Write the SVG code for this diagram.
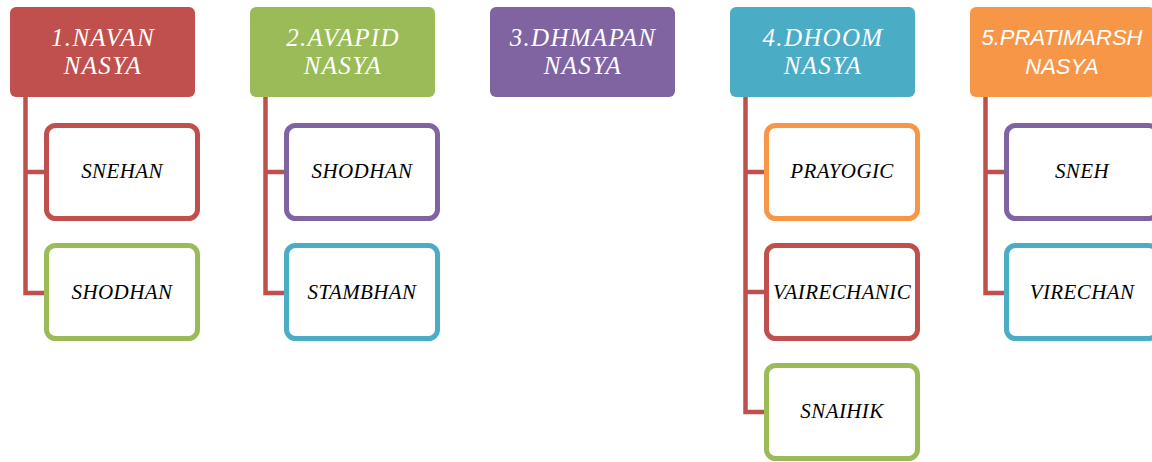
<svg xmlns="http://www.w3.org/2000/svg" width="1152" height="462" viewBox="0 0 1152 462">
<style>
.h{font-family:"Liberation Serif",serif;font-style:italic;font-size:25px;letter-spacing:1.3px;fill:#fff;text-anchor:middle}
.hs{font-family:"Liberation Sans",sans-serif;font-style:italic;font-size:22px;fill:#fff;text-anchor:middle}
.c{font-family:"Liberation Serif",serif;font-style:italic;font-size:21px;letter-spacing:0.4px;fill:#000;text-anchor:middle}
.b{fill:#fff;stroke-width:5}
.ln{fill:none;stroke:#C0504D;stroke-width:4.5}
</style>
<rect width="1152" height="462" fill="#fff"/>
<g id="connectors">
<path class="ln" d="M25.5 97V293H44M25.5 172H44"/>
<path class="ln" d="M265.5 97V293H284M265.5 172H284"/>
<path class="ln" d="M745.5 97V412H764M745.5 172H764M745.5 292H764"/>
<path class="ln" d="M985.5 97V293H1004M985.5 172H1004"/>
</g>
<g id="h1"><rect x="10" y="7" width="185" height="90" rx="6" fill="#C0504D"/><text class="h" x="103" y="46">1.NAVAN</text><text class="h" x="103" y="74">NASYA</text></g>
<g id="h2"><rect x="250" y="7" width="185" height="90" rx="6" fill="#9BBB59"/><text class="h" x="343" y="46">2.AVAPID</text><text class="h" x="343" y="74">NASYA</text></g>
<g id="h3"><rect x="490" y="7" width="185" height="90" rx="6" fill="#8064A2"/><text class="h" x="583" y="46">3.DHMAPAN</text><text class="h" x="583" y="74">NASYA</text></g>
<g id="h4"><rect x="730" y="7" width="185" height="90" rx="6" fill="#4BACC6"/><text class="h" x="823" y="46">4.DHOOM</text><text class="h" x="823" y="74">NASYA</text></g>
<g id="h5"><rect x="970" y="7" width="185" height="90" rx="6" fill="#F79646"/><text class="hs" x="1062" y="45">5.PRATIMARSH</text><text class="hs" x="1062" y="74">NASYA</text></g>
<g id="c1a"><rect class="b" x="46.5" y="125.5" width="151" height="93" rx="9" stroke="#C0504D"/><text class="c" x="122" y="178">SNEHAN</text></g>
<g id="c1b"><rect class="b" x="46.5" y="245.5" width="151" height="93" rx="9" stroke="#9BBB59"/><text class="c" x="122" y="299">SHODHAN</text></g>
<g id="c2a"><rect class="b" x="286.5" y="125.5" width="151" height="93" rx="9" stroke="#8064A2"/><text class="c" x="362" y="178">SHODHAN</text></g>
<g id="c2b"><rect class="b" x="286.5" y="245.5" width="151" height="93" rx="9" stroke="#4BACC6"/><text class="c" x="362" y="299">STAMBHAN</text></g>
<g id="c4a"><rect class="b" x="766.5" y="125.5" width="151" height="93" rx="9" stroke="#F79646"/><text class="c" x="842" y="178">PRAYOGIC</text></g>
<g id="c4b"><rect class="b" x="766.5" y="245.5" width="151" height="93" rx="9" stroke="#C0504D"/><text class="c" x="842" y="299">VAIRECHANIC</text></g>
<g id="c4c"><rect class="b" x="766.5" y="365.5" width="151" height="93" rx="9" stroke="#9BBB59"/><text class="c" x="842" y="418">SNAIHIK</text></g>
<g id="c5a"><rect class="b" x="1006.5" y="125.5" width="151" height="93" rx="9" stroke="#8064A2"/><text class="c" x="1082" y="178">SNEH</text></g>
<g id="c5b"><rect class="b" x="1006.5" y="245.5" width="151" height="93" rx="9" stroke="#4BACC6"/><text class="c" x="1082" y="299">VIRECHAN</text></g>
</svg>
